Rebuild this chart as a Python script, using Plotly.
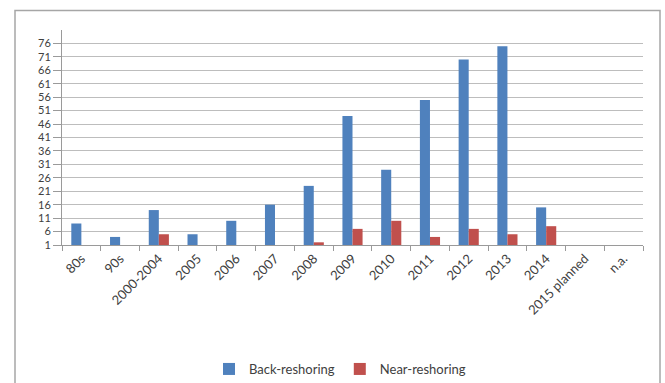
import plotly.graph_objects as go

categories = ["80s", "90s", "2000-2004", "2005", "2006", "2007", "2008", "2009",
              "2010", "2011", "2012", "2013", "2014", "2015 planned", "n.a."]
back_reshoring = [9, 4, 14, 5, 10, 16, 23, 49, 29, 55, 70, 75, 15, None, None]
near_reshoring = [None, None, 5, None, None, None, 2, 7, 10, 4, 7, 5, 8, None, None]
y_ticks = [1, 6, 11, 16, 21, 26, 31, 36, 41, 46, 51, 56, 61, 66, 71, 76]

W, H = 665, 383
L, R, T, B = 62, 22, 30, 138
pw, ph = W - L - R, H - T - B

font = dict(family="Lato, 'Open Sans', sans-serif", size=12, color="#404040")

fig = go.Figure()
fig.add_bar(x=categories, y=[None if v is None else v - 1 for v in back_reshoring],
            base=1, name="Back-reshoring", marker_color="#4F81BD",
            marker_line_width=0)
fig.add_bar(x=categories, y=[None if v is None else v - 1 for v in near_reshoring],
            base=1, name="Near-reshoring", marker_color="#C0504D",
            marker_line_width=0)


def px_x(p):
    return (p - L) / pw


def px_y(p):
    return (H - B - p) / ph


fig.update_layout(
    width=W, height=H,
    margin=dict(l=L, r=R, t=T, b=B, autoexpand=False),
    paper_bgcolor="white", plot_bgcolor="white",
    barmode="group", bargap=0.48, bargroupgap=0,
    font=font,
    showlegend=True,
    legend=dict(orientation="h", xref="container", x=340 / W, xanchor="center",
                yref="container", y=(H - 369) / H, yanchor="middle",
                font=dict(size=13, color="#404040"),
                itemwidth=30, traceorder="normal"),
    xaxis=dict(type="category", tickangle=-45, showgrid=False, automargin=False,
               showline=True, linecolor="#9A9A9A", linewidth=1,
               ticks="outside", tickson="boundaries", ticklen=5, tickcolor="#9A9A9A",
               tickfont=dict(size=13, color="#404040")),
    yaxis=dict(range=[1, 81], tickvals=y_ticks, ticktext=[str(t) for t in y_ticks],
               showgrid=True, gridcolor="#BDBDBD", gridwidth=1, automargin=False,
               showline=True, linecolor="#9A9A9A", linewidth=1,
               ticks="outside", ticklen=8, tickcolor="#9A9A9A",
               zeroline=False, tickfont=dict(size=11, color="#404040")),
    shapes=[dict(type="rect", xref="paper", yref="paper",
                 x0=px_x(15), x1=px_x(660), y0=px_y(430), y1=px_y(10.5),
                 line=dict(color="#A6A6A6", width=1.5), layer="below")],
)

fig.write_html("out.html")
